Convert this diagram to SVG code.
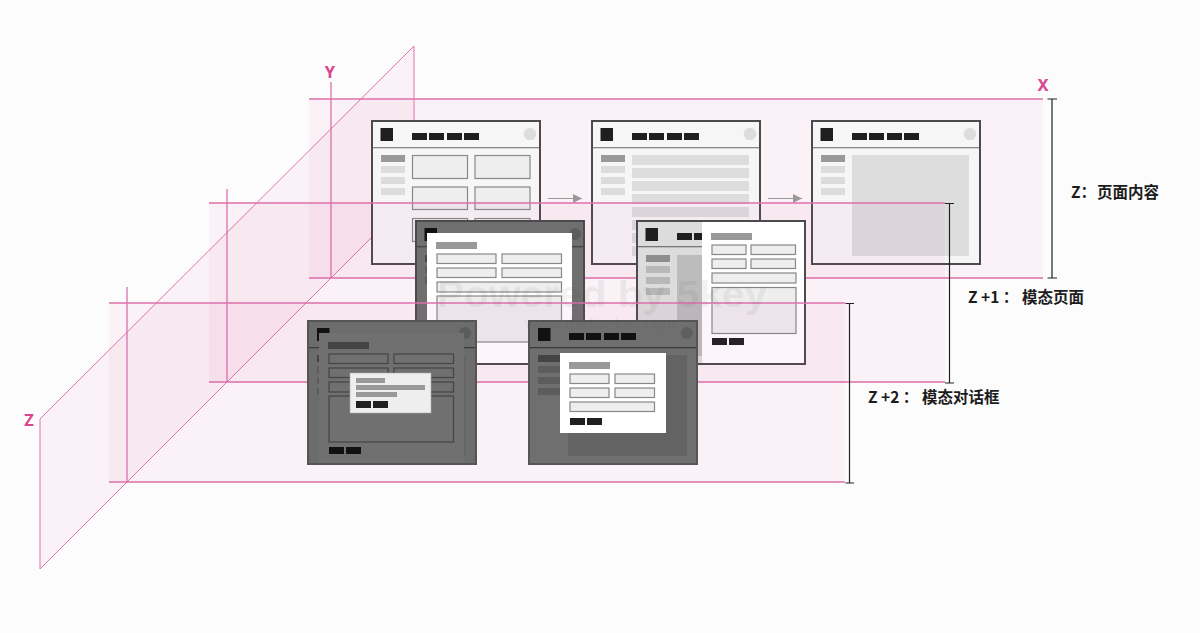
<svg xmlns="http://www.w3.org/2000/svg" width="1200" height="633" viewBox="0 0 1200 633">
<style>
.plane{fill:#d8409a;fill-opacity:.055}
.pl{stroke:#dc70aa;stroke-width:1.3;fill:none}
.thin{stroke:#e075ae;stroke-width:1;fill:none}
.br{stroke:#222;stroke-width:1.2;fill:none}
.ax{font:700 16.500px "Noto Sans","Noto Sans CJK SC",sans-serif;fill:#d9468f}
.lb{font:700 15.500px "Noto Sans CJK SC","Noto Sans",sans-serif;fill:#1c1c1c}
.fr{fill:none;stroke:#4d4a4d;stroke-width:2}
.bk{fill:#1f1f1f}.dk{fill:#111}
.hl{fill:#999}.lt{fill:#dcdcdc}
.fld{fill:#eee;stroke:#888;stroke-width:1.2}
.dfld{fill:none;stroke:#444;stroke-width:1.2}
.arr{stroke:#999;stroke-width:1.2;fill:none;marker-end:url(#ah)}
</style>
<defs>
<marker id="ah" markerUnits="userSpaceOnUse" markerWidth="10" markerHeight="10" refX="9" refY="4.5" orient="auto"><path d="M0 0L9 4.5L0 9Z" fill="#999"/></marker>
<g id="hdr">
<rect x="8.500" y="7" width="12.500" height="13" class="bk"/>
<rect x="40" y="12" width="15" height="7" class="bk"/><rect x="57" y="12" width="15" height="7" class="bk"/><rect x="75" y="12" width="15" height="7" class="bk"/><rect x="92" y="12" width="15" height="7" class="bk"/>
<circle cx="158" cy="13" r="6.300" fill="#ddd"/>
<rect y="26" width="168" height="1.300" fill="#888"/>
<rect x="9" y="34" width="24" height="7" class="hl"/><rect x="9" y="45" width="24" height="7" class="lt"/><rect x="9" y="56" width="24" height="7" class="lt"/><rect x="9" y="67" width="24" height="7" class="lt"/>
</g>
</defs>
<rect width="1200" height="633" fill="#fcfcfc"/>

<g id="plane-y-z">
<path d="M40 419L414 46V195L40 569Z" class="plane"/>
<path d="M40 419L414 46V195L40 569Z" class="thin"/>
</g>

<g id="plane-z0">
<rect x="309" y="99" width="734" height="179" class="plane"/>
<path d="M309 99H1043M309 278H1043M331 82V278" class="pl"/>
</g>

<g id="page-list">
<rect x="372" y="121" width="168" height="143" fill="#f6f6f6"/>
<use href="#hdr" x="372" y="121"/>
<rect x="412.500" y="155.500" width="55" height="23" class="fld"/><rect x="475" y="155.500" width="55" height="23" class="fld"/>
<rect x="412.500" y="187" width="55" height="22.500" class="fld"/><rect x="475" y="187" width="55" height="22.500" class="fld"/>
<rect x="412.500" y="218.500" width="55" height="23" class="fld"/><rect x="475" y="218.500" width="55" height="23" class="fld"/>
<rect x="372" y="121" width="168" height="143" class="fr"/>
</g>
<g id="page-detail">
<rect x="592" y="121" width="168" height="143" fill="#f6f6f6"/>
<use href="#hdr" x="592" y="121"/>
<path d="M632 155h117v10H632zM632 168h117v10H632zM632 181h117v10H632zM632 194h117v10H632zM632 207h117v10H632zM632 220h117v10H632zM632 233h117v10H632zM632 246h117v10H632z" fill="#ddd"/>
<rect x="592" y="121" width="168" height="143" class="fr"/>
</g>
<g id="page-content">
<rect x="812" y="121" width="168" height="143" fill="#f6f6f6"/>
<use href="#hdr" x="812" y="121"/>
<rect x="852" y="155" width="117" height="101" fill="#ddd"/>
<rect x="812" y="121" width="168" height="143" class="fr"/>
</g>

<g id="connectors">
<path d="M548 198.500H582" class="arr"/>
<path d="M768 198.500H802" class="arr"/>
</g>

<g id="plane-z1">
<rect x="209" y="203" width="736" height="179" class="plane"/>
<path d="M209 203H945M209 382H945M227 189V382" class="pl"/>
</g>

<g id="modal-page-a">
<rect x="416" y="221" width="168" height="143" fill="#6f6f6f"/>
<rect x="424.500" y="228" width="12.500" height="13" class="dk"/>
<circle cx="575" cy="234" r="6" fill="#5c5c5c"/>
<rect x="416" y="246" width="168" height="1.300" fill="#444"/>
<rect x="425" y="255" width="2" height="7" fill="#4a4a4a"/><rect x="425" y="266" width="2" height="7" fill="#5f5f5f"/><rect x="425" y="277" width="2" height="7" fill="#5f5f5f"/>
<rect x="427" y="233" width="145" height="131" fill="#fff"/>
<rect x="436" y="242" width="41" height="7" class="hl"/>
<rect x="437" y="254" width="59" height="9.500" class="fld"/><rect x="502" y="254" width="59.500" height="9.500" class="fld"/>
<rect x="437" y="268" width="59" height="9.500" class="fld"/><rect x="502" y="268" width="59.500" height="9.500" class="fld"/>
<rect x="437" y="282" width="124.500" height="10" class="fld"/>
<rect x="437" y="296" width="124.500" height="46" class="fld"/>
<rect x="416" y="221" width="168" height="143" class="fr"/>
</g>
<g id="modal-page-b">
<rect x="637" y="221" width="168" height="143" fill="#dcdcdc"/>
<rect x="645.500" y="228" width="12.500" height="13" class="bk"/>
<rect x="677" y="233" width="15" height="7" class="bk"/><rect x="694" y="233" width="15" height="7" class="bk"/>
<rect x="637" y="246" width="168" height="1.300" fill="#777"/>
<rect x="646" y="255" width="24" height="7" fill="#8e8e8e"/><rect x="646" y="266" width="24" height="7" fill="#b8b8b8"/><rect x="646" y="277" width="24" height="7" fill="#b8b8b8"/><rect x="646" y="288" width="24" height="7" fill="#b8b8b8"/>
<rect x="677" y="255" width="30" height="101" fill="#bcbcbc"/>
<rect x="702" y="221" width="103" height="143" fill="#fff"/>
<rect x="711" y="233" width="41" height="7" class="hl"/>
<rect x="712" y="245" width="34" height="9.500" class="fld"/><rect x="751" y="245" width="44.500" height="9.500" class="fld"/>
<rect x="712" y="259" width="34" height="9.500" class="fld"/><rect x="751" y="259" width="44.500" height="9.500" class="fld"/>
<rect x="712" y="273" width="84" height="10" class="fld"/>
<rect x="712" y="287.500" width="84" height="46" class="fld"/>
<rect x="712" y="338" width="15" height="7" class="bk"/><rect x="729" y="338" width="15" height="7" class="bk"/>
<rect x="637" y="221" width="168" height="143" class="fr"/>
</g>

<g id="plane-z2">
<rect x="109" y="303" width="736" height="179" class="plane"/>
<path d="M109 303H845M109 482H845M127 287V482" class="pl"/>
</g>

<g id="dialog-a">
<rect x="308" y="321" width="168" height="143" fill="#6c6c6c"/>
<rect x="317" y="328" width="12.500" height="13" class="dk"/>
<circle cx="465" cy="333" r="6" fill="#5c5c5c"/>
<rect x="308" y="347" width="168" height="1.300" fill="#3c3c3c"/>
<rect x="317" y="355" width="2" height="7" fill="#444"/><rect x="317" y="366" width="2" height="7" fill="#5c5c5c"/><rect x="317" y="377" width="2" height="7" fill="#5c5c5c"/><rect x="317" y="388" width="2" height="7" fill="#5c5c5c"/>
<rect x="319" y="333" width="145" height="131" fill="#707070"/>
<rect x="464" y="355" width="1.500" height="100" fill="#646464"/>
<rect x="328" y="342" width="41" height="7" fill="#444"/>
<rect x="329" y="354" width="59" height="9.500" class="dfld"/><rect x="394" y="354" width="59.500" height="9.500" class="dfld"/>
<rect x="329" y="368" width="59" height="9.500" class="dfld"/><rect x="394" y="368" width="59.500" height="9.500" class="dfld"/>
<rect x="329" y="382" width="124.500" height="10" class="dfld"/>
<rect x="329" y="396" width="124.500" height="46" class="dfld"/>
<rect x="329" y="447" width="15" height="7" class="dk"/><rect x="346" y="447" width="15" height="7" class="dk"/>
<rect x="350" y="373" width="81" height="40" fill="#eee" stroke="#aaa" stroke-width=".6"/>
<rect x="356" y="378" width="29" height="5" class="hl"/><rect x="356" y="385" width="69" height="5" class="hl"/><rect x="356" y="392" width="41" height="5" class="hl"/>
<rect x="356" y="401" width="15" height="7" class="bk"/><rect x="373" y="401" width="15" height="7" class="bk"/>
<rect x="308" y="321" width="168" height="143" fill="none" stroke="#555" stroke-width="2"/>
</g>
<g id="dialog-b">
<rect x="529" y="321" width="168" height="143" fill="#6f6f6f"/>
<rect x="538" y="328" width="12.500" height="13" class="dk"/>
<rect x="569" y="333" width="15" height="7" class="dk"/><rect x="586" y="333" width="15" height="7" class="dk"/><rect x="604" y="333" width="15" height="7" class="dk"/><rect x="621" y="333" width="15" height="7" class="dk"/>
<circle cx="687" cy="333" r="6" fill="#5f5f5f"/>
<rect x="529" y="347" width="168" height="1.300" fill="#3c3c3c"/>
<rect x="538" y="355" width="25" height="7" fill="#444"/><rect x="538" y="366" width="25" height="7" fill="#5c5c5c"/><rect x="538" y="377" width="25" height="7" fill="#5c5c5c"/><rect x="538" y="388" width="25" height="7" fill="#5c5c5c"/>
<rect x="568" y="355" width="119" height="101" fill="#636363"/>
<rect x="560" y="353" width="106" height="80" fill="#fff"/>
<rect x="569" y="362" width="41" height="7" class="hl"/>
<rect x="570" y="374" width="39" height="9.500" class="fld"/><rect x="615" y="374" width="39.500" height="9.500" class="fld"/>
<rect x="570" y="388" width="39" height="9.500" class="fld"/><rect x="615" y="388" width="39.500" height="9.500" class="fld"/>
<rect x="570" y="402" width="84.500" height="9.500" class="fld"/>
<rect x="570" y="418" width="15" height="7" class="bk"/><rect x="587" y="418" width="15" height="7" class="bk"/>
<rect x="529" y="321" width="168" height="143" fill="none" stroke="#555" stroke-width="2"/>
</g>

<g id="brackets">
<path d="M1052 99V278M1047.500 99H1057M1047.500 278H1057" class="br"/>
<path d="M949.500 203.500V383M945 203.500H954M945 383H954" class="br"/>
<path d="M849.500 303.500V483M845.500 303.500H854M845.500 483H854" class="br"/>
</g>

<g id="labels">
<text x="1043" y="91" text-anchor="middle" class="ax">X</text>
<text x="330" y="77.500" text-anchor="middle" class="ax">Y</text>
<text x="29" y="426" text-anchor="middle" class="ax">Z</text>
<text class="lb" y="197.500"><tspan x="1071">Z：</tspan><tspan x="1097">页面内容</tspan></text>
<text class="lb" y="302.500"><tspan x="968">Z +1 ：</tspan><tspan x="1022">模态页面</tspan></text>
<text class="lb" y="402.500"><tspan x="868">Z +2 ：</tspan><tspan x="922">模态对话框</tspan></text>
</g>
<g id="watermark" fill="#333" fill-opacity=".08" font-family="'Liberation Sans',sans-serif" font-weight="700">
<text x="437" y="307" font-size="37" textLength="330" lengthAdjust="spacingAndGlyphs">Powered by 5key</text>
<text x="525" y="329" font-size="15.500" font-weight="400" textLength="151" lengthAdjust="spacingAndGlyphs">www.thefivekey.com</text>
</g>
</svg>
